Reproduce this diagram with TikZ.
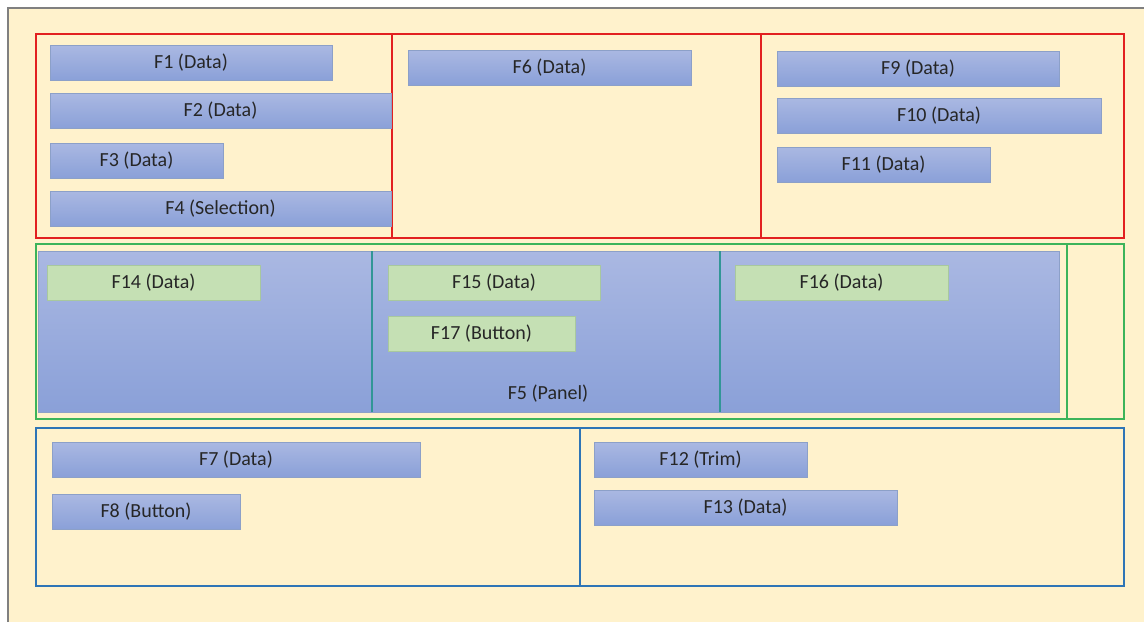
\documentclass[tikz,border=0pt]{standalone}
\usepackage{fontspec}
\setmainfont{Carlito}
\usepackage{xcolor}
\definecolor{cream}{RGB}{255,242,204}
\definecolor{fieldtop}{RGB}{170,184,226}
\definecolor{fieldbot}{RGB}{138,160,216}
\definecolor{fieldline}{RGB}{140,160,200}
\definecolor{lightgreen}{RGB}{197,224,180}
\definecolor{greenline}{RGB}{168,200,158}
\definecolor{redframe}{RGB}{226,32,32}
\definecolor{greenframe}{RGB}{60,180,90}
\definecolor{blueframe}{RGB}{46,117,182}
\definecolor{tealline}{RGB}{50,150,150}
\tikzset{
    field/.style={draw=fieldline, top color=fieldtop, bottom color=fieldbot,
        minimum height=17.5pt, inner sep=0pt, font=\fontsize{10}{12}\selectfont, text=black!85},
    gfield/.style={draw=greenline, fill=lightgreen,
        minimum height=17.5pt, inner sep=0pt, font=\fontsize{10}{12}\selectfont, text=black!85},
}

\begin{document}
\begin{tikzpicture}[x=0.5pt, y=-0.5pt]
    \useasboundingbox (0,0) rectangle (1144,622);
    % background
    \fill[cream] (8,8) rectangle (1144,622);
    \draw[gray, line width=1pt] (8,622) -- (8,8) -- (1144,8);

    % top section
    \draw[redframe, line width=1pt] (36,34) rectangle (1124,238);
    \draw[redframe, line width=1pt] (392,34) -- (392,238);
    \draw[redframe, line width=1pt] (761,34) -- (761,238);

    % middle section
    \draw[greenframe, line width=1pt] (36,244) rectangle (1124,419);
    \draw[greenframe, line width=1pt] (1067,244) -- (1067,419);
    \draw[fieldline, top color=fieldtop, bottom color=fieldbot] (38,251) rectangle (1059,412);
    \draw[tealline, line width=0.75pt] (372,251) -- (372,412);
    \draw[tealline, line width=0.75pt] (720,251) -- (720,412);

    % bottom section
    \draw[blueframe, line width=1pt] (36,428) rectangle (1124,586);
    \draw[blueframe, line width=1pt] (580,428) -- (580,586);

    \node[field, minimum width=141pt] (F1) at (191,63) {F1 (Data)};
    \node[field, minimum width=170.5pt] (F2) at (220.5,111) {F2 (Data)};
    \node[field, minimum width=86.5pt] (F3) at (136.5,160.5) {F3 (Data)};
    \node[field, minimum width=170.5pt] (F4) at (220.5,208.5) {F4 (Selection)};
    \node[field, minimum width=141.5pt] (F6) at (549.5,67.5) {F6 (Data)};
    \node[field, minimum width=141pt] (F9) at (918,68.5) {F9 (Data)};
    \node[field, minimum width=162pt] (F10) at (939,115.5) {F10 (Data)};
    \node[field, minimum width=106.5pt] (F11) at (883.5,164.5) {F11 (Data)};

    \node[gfield, minimum width=106.5pt] (F14) at (153.5,283) {F14 (Data)};
    \node[gfield, minimum width=106pt] (F15) at (494,283) {F15 (Data)};
    \node[gfield, minimum width=93.5pt] (F17) at (481.5,334) {F17 (Button)};
    \node[gfield, minimum width=106.5pt] (F16) at (841.5,283) {F16 (Data)};
    \node[font=\fontsize{10}{12}\selectfont, text=black!85] (F5) at (548,394) {F5 (Panel)};

    \node[field, minimum width=184pt] (F7) at (236,459.5) {F7 (Data)};
    \node[field, minimum width=94pt] (F8) at (146,512) {F8 (Button)};
    \node[field, minimum width=106.5pt] (F12) at (700.5,459.5) {F12 (Trim)};
    \node[field, minimum width=151.5pt] (F13) at (745.5,507.5) {F13 (Data)};
\end{tikzpicture}
\end{document}
